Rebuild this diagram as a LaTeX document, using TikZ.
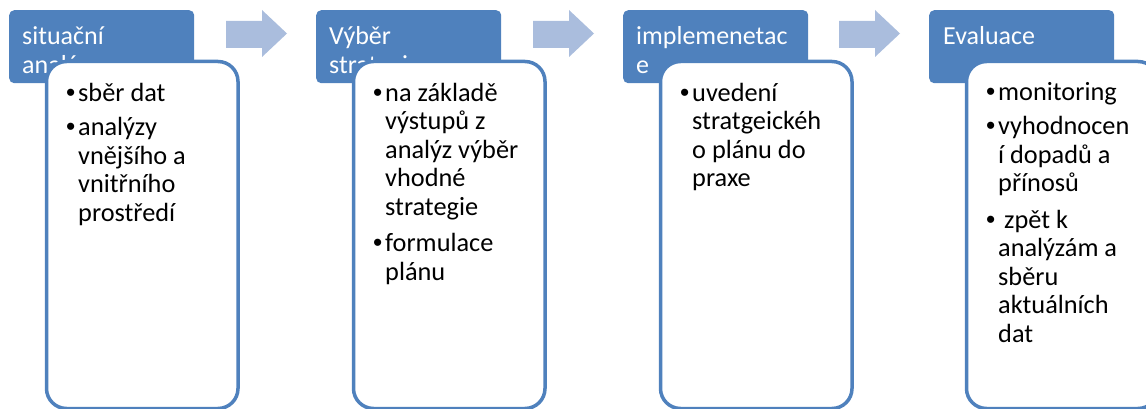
\documentclass[tikz,border=0pt]{standalone}
\usepackage{fontspec}
\setmainfont{Carlito}
\newfontfamily\bulletfont{Liberation Sans}
\definecolor{accent}{RGB}{79,129,189}
\definecolor{arrowfill}{RGB}{170,189,221}
\newcommand{\bul}{\makebox[12pt][l]{\bulletfont •}}
\newcommand{\ind}{\hspace*{12pt}}
\begin{document}
\begin{tikzpicture}[x=1pt,y=-1pt,
  head/.style={fill=accent, rounded corners=5pt, minimum width=185pt,
    minimum height=73pt, anchor=north west, inner sep=0},
  card/.style={draw=accent, line width=3.5pt, fill=white, rounded corners=20pt,
    minimum width=191.5pt, minimum height=347pt, anchor=north west, inner sep=0},
  headtext/.style={anchor=base west, inner sep=0, text=white,
    font=\fontsize{26}{29}\selectfont},
  bodytext/.style={anchor=base west, inner sep=0,
    font=\fontsize{26.3}{28.5}\selectfont},
  flowarrow/.pic={
    \fill[arrowfill] (0,21) -- (36,21) -- (36,10) -- (61,33.5) -- (36,57)
      -- (36,48) -- (0,48) -- cycle;
  }]
\useasboundingbox (0,0) rectangle (1146,409);

% stage headers
\node[head] (h1) at (9,10) {};
\node[head] (h2) at (316,10) {};
\node[head] (h3) at (623,10) {};
\node[head] (h4) at (929,10) {};

\node[headtext] (t1) at (22,45) {\parbox[t]{170pt}{situační\\analýza}};
\node[headtext] (t2) at (329,45) {\parbox[t]{170pt}{Výběr\\strategie}};
\node[headtext] (t3) at (636,45) {\parbox[t]{170pt}{implemenetac\\e}};
\node[headtext] (t4) at (943,45) {\parbox[t]{170pt}{Evaluace}};

% detail cards
\node[card] (c1) at (44.75,59.75) {};
\node[card] (c2) at (351.75,59.75) {};
\node[card] (c3) at (658.75,59.75) {};
\node[card] (c4) at (964.75,59.75) {};

\node[bodytext] (b1) at (66,101.5) {\parbox[t]{180pt}{%
  \bul sběr dat\\[6pt]
  \bul analýzy\\
  \ind vnějšího a\\
  \ind vnitřního\\
  \ind prostředí}};
\node[bodytext] (b2) at (373,101.5) {\parbox[t]{180pt}{%
  \bul na základě\\
  \ind výstupů z\\
  \ind analýz výběr\\
  \ind vhodné\\
  \ind strategie\\[8pt]
  \bul formulace\\
  \ind plánu}};
\node[bodytext] (b3) at (680,101.5) {\parbox[t]{180pt}{%
  \bul uvedení\\
  \ind stratgeickéh\\
  \ind o plánu do\\
  \ind praxe}};
\node[bodytext] (b4) at (986,100.5) {\parbox[t]{180pt}{%
  \bul monitoring\\[6pt]
  \bul vyhodnocen\\
  \ind í dopadů a\\
  \ind přínosů\\[8pt]
  \bul\ zpět k\\
  \ind analýzám a\\
  \ind sběru\\
  \ind aktuálních\\
  \ind dat}};

% arrows between stages
\pic (a1) at (226,0) {flowarrow};
\pic (a2) at (533,0) {flowarrow};
\pic (a3) at (839,0) {flowarrow};
\end{tikzpicture}
\end{document}
